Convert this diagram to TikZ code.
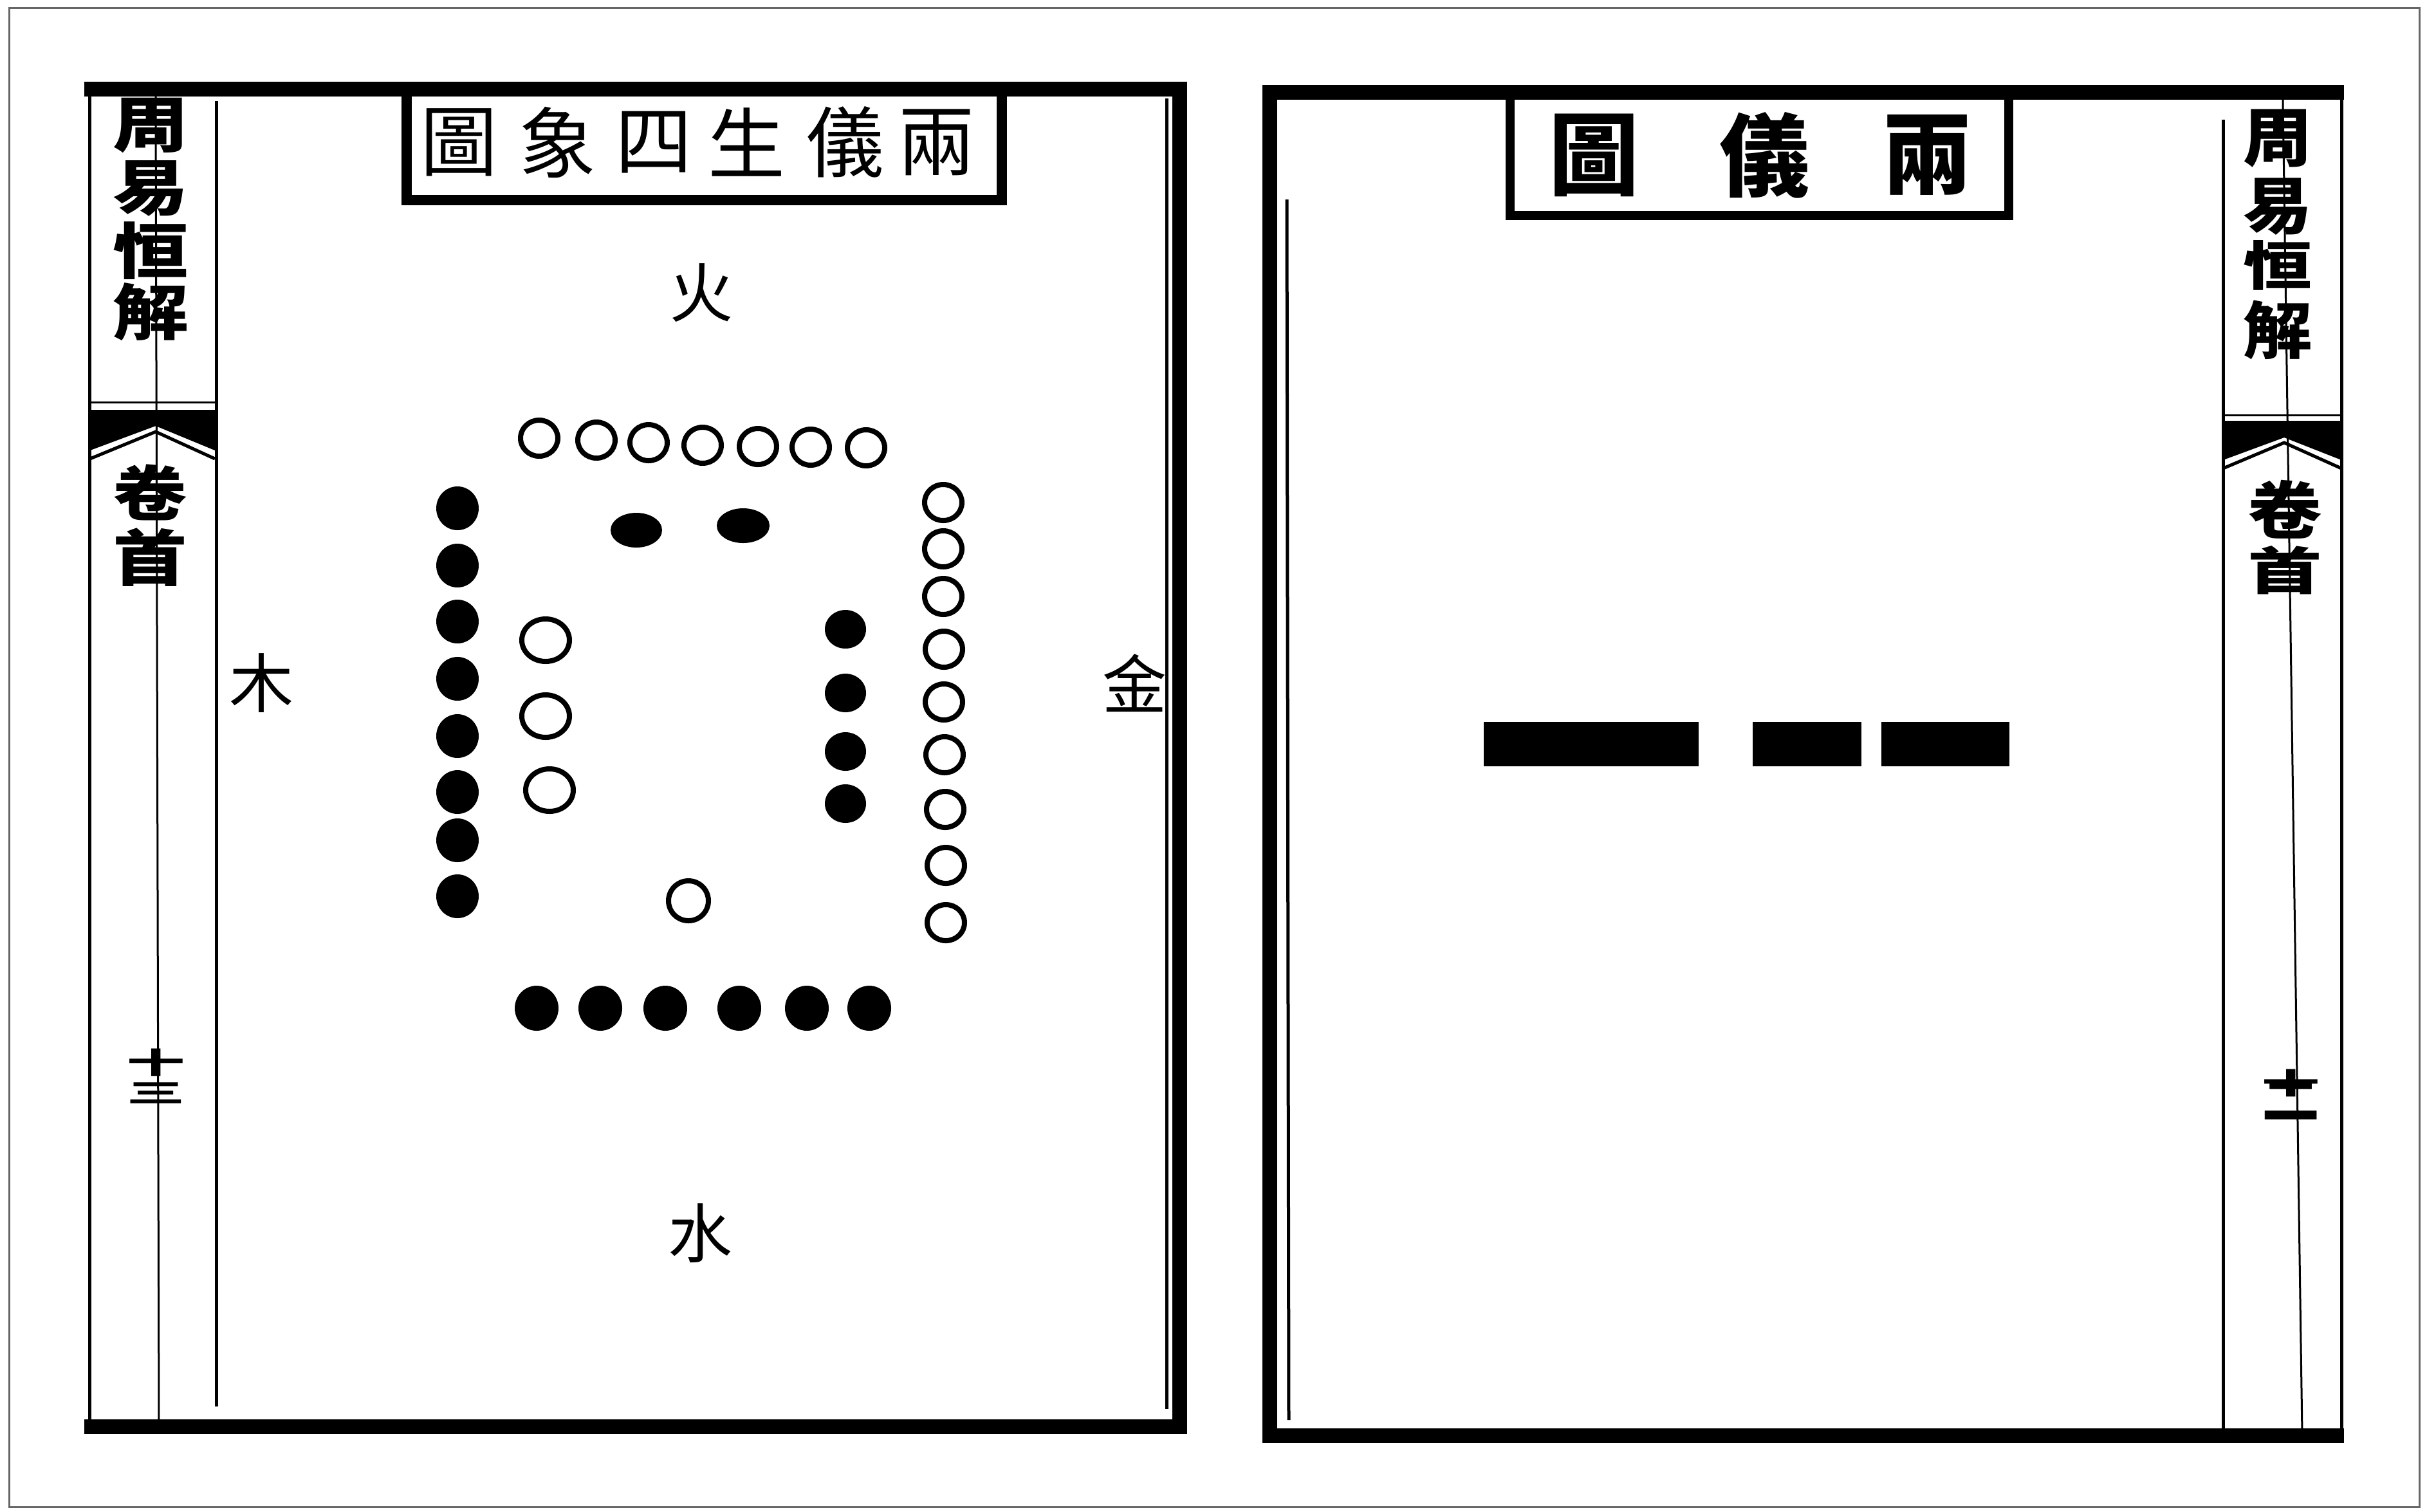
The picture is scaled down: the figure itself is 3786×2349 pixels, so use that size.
\documentclass[tikz,border=0pt]{standalone}
\usepackage{fontspec}
\newfontfamily\cjk{Noto Sans CJK TC}
\newcommand\zihao[1]{\cjk\fontsize{#1}{#1}\selectfont}
\newcommand\flach[3]{\scalebox{#1}[#2]{#3}}

\begin{document}
\begin{tikzpicture}[yscale=-1,x=0.1mm,y=0.1mm,
  rahmen/.style={line width=2.3mm,line join=miter},
  duenn/.style={line width=0.5mm},
  haar/.style={line width=0.3mm},
  yang/.style={line width=0.8mm},
  yin/.style={fill=black},
  zi/.style={inner sep=0pt}]

  \useasboundingbox (0,0) rectangle (3786,2349);
  \fill[white] (0,0) rectangle (3786,2349);

  % --- aeusserer Rand des Scans ---
  \draw[haar,black!60] (14,12) rectangle (3760,2342);

  % ======================================================================
  % Linke Seite: Liang yi sheng si xiang tu
  % ======================================================================
  \draw[rahmen] (131,138.5) -- (1833.5,138.5) -- (1833.5,2217.5) -- (131,2217.5);
  \draw[duenn] (139,150) -- (139,2207);
  \draw[duenn] (1813,153) -- (1813,2190);
  \draw[duenn] (336,157) -- (336,2186);
  \draw[haar] (242,150) -- (247,2207);

  % Titelkasten
  \draw[line width=1.6mm] (632,150) -- (632,311) -- (1557,311) -- (1557,150);
  \foreach \z/\x [count=\i] in {圖/713,象/866,四/1016,生/1160,儀/1313,兩/1455}
    \node[zi,font=\zihao{12mm}] (ltitel\i) at (\x,221) {\z};

  % Banxin: Buchtitel, Fischschwanz, Kapitel, Blattzahl
  \foreach \z/\y [count=\i] in {周/195,易/293,恒/390,解/485}
    \node[zi,font=\zihao{10.5mm}\bfseries] (lbuch\i) at (234,\y) {\flach{1.12}{0.9}{\z}};
  \draw[haar] (140,625) -- (334,625);
  \fill (140,637) -- (334,637) -- (334,700) -- (242,662) -- (140,700) -- cycle;
  \draw[duenn] (140,713) -- (242,671) -- (334,713);
  \node[zi,font=\zihao{10.5mm}\bfseries] (ljuan) at (233,765) {\flach{1.1}{0.88}{卷}};
  \node[zi,font=\zihao{10.5mm}\bfseries] (lshou) at (233,866) {\flach{1.1}{0.9}{首}};
  \node[zi,align=center,font=\zihao{9mm}\bfseries] (lblatt) at (242,1673)
    {\flach{1}{0.5}{十}\\[-4.5mm]\flach{1}{0.45}{三}};

  % Himmelsrichtungen
  \node[zi,font=\zihao{10mm}] (huo) at (1090,455) {火};
  \node[zi,font=\zihao{10mm}] (mu) at (406,1062) {木};
  \node[zi,font=\zihao{10mm}] (jin) at (1763,1062) {金};
  \node[zi,font=\zihao{10mm}] (shui) at (1088,1917) {水};

  % oben: sieben Yang-Punkte
  \foreach \x/\y in {838/681,927/684,1008/688,1092/692,1178/694,1260/695,1346/696}
    \draw[yang] (\x,\y) circle [x radius=29, y radius=28];
  % links: acht Yin-Punkte
  \foreach \y in {790,879,966,1055,1144,1231,1306,1393}
    \fill[yin] (711,\y) circle [x radius=33, y radius=34];
  % innen oben: zwei Yin-Punkte
  \fill[yin] (989,824) circle [x radius=40, y radius=27];
  \fill[yin] (1155,817) circle [x radius=41, y radius=27];
  % innen links: drei Yang-Punkte
  \foreach \x/\y in {848/995,848/1113,854/1228}
    \draw[yang] (\x,\y) circle [x radius=37, y radius=33];
  % innen rechts: vier Yin-Punkte
  \foreach \y in {978,1077,1168,1249}
    \fill[yin] (1314,\y) circle [x radius=32, y radius=30];
  % rechts: neun Yang-Punkte
  \foreach \x/\y in {1466/781,1466/853,1466/927,1467/1009,1467/1091,1468/1173,1469/1258,1470/1345,1470/1434}
    \draw[yang] (\x,\y) circle [x radius=29, y radius=28];
  % innen unten: ein Yang-Punkt
  \draw[yang] (1070,1400) circle [x radius=31, y radius=31];
  % unten: sechs Yin-Punkte
  \foreach \x in {834,933,1034,1149,1254,1351}
    \fill[yin] (\x,1567) circle [x radius=34, y radius=35];

  % ======================================================================
  % Rechte Seite: Liang yi tu
  % ======================================================================
  \draw[rahmen] (3643,143) -- (1973.5,143) -- (1973.5,2231) -- (3643,2231);
  \draw[duenn] (3639,143) -- (3639,2231);
  \draw[duenn] (2000,310) -- (2003,2207);
  \draw[duenn] (3455,186) -- (3455,2225);
  \draw[haar] (3548,155) -- (3578,2229);

  % Titelkasten
  \draw[line width=1.4mm] (2347,153) -- (2347,335) -- (3122,335) -- (3122,153);
  \foreach \z/\x [count=\i] in {圖/2477,儀/2742,兩/2995}
    \node[zi,font=\zihao{14mm}\bfseries] (rtitel\i) at (\x,241) {\z};

  % Banxin
  \foreach \z/\y/\s [count=\i] in {周/215/0.95,易/321/0.92,恒/412/0.78,解/513/0.92}
    \node[zi,font=\zihao{10.5mm}\bfseries] (rbuch\i) at (3540,\y) {\flach{1.02}{\s}{\z}};
  \draw[haar] (3455,645) -- (3639,645);
  \fill (3455,654) -- (3639,654) -- (3639,715) -- (3550,680) -- (3455,715) -- cycle;
  \draw[duenn] (3455,728) -- (3550,688) -- (3639,728);
  \node[zi,font=\zihao{10.5mm}\bfseries] (rjuan) at (3551,792) {\flach{1.1}{0.92}{卷}};
  \node[zi,font=\zihao{10.5mm}\bfseries] (rshou) at (3551,886) {\flach{1.1}{0.75}{首}};
  \node[zi,align=center,font=\zihao{9mm}\bfseries] (rblatt) at (3560,1701)
    {\flach{1}{0.5}{十}\\[-5.2mm]\flach{1}{0.9}{二}};

  % Yin und Yang als Balken
  \fill (2306,1122) rectangle (2640,1191);
  \fill (2724,1122) rectangle (2893,1191);
  \fill (2924,1122) rectangle (3123,1191);

\end{tikzpicture}
\end{document}
